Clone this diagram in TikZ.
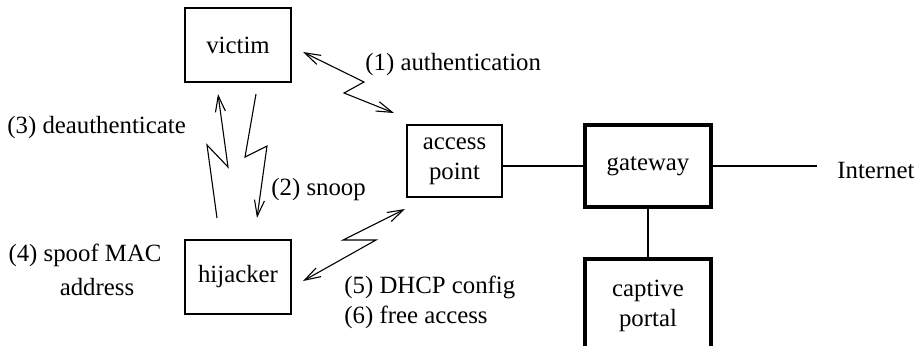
\documentclass[tikz,border=0pt]{standalone}
\usepackage{fontspec}
\setmainfont{Liberation Serif}
\usetikzlibrary{arrows.meta}
\begin{document}
\begin{tikzpicture}[x=0.5pt,y=-0.5pt,
  every node/.style={font=\fontsize{12.4}{15}\selectfont},
  thinbox/.style={draw,line width=0.6pt,inner sep=0pt,align=center},
  thickbox/.style={draw,line width=1.8pt,inner sep=0pt,align=center,minimum width=63pt,minimum height=41pt},
  lbl/.style={inner sep=0pt,anchor=west,align=left},
  link/.style={line width=0.6pt},
  wave/.style={line width=0.55pt,line join=miter},
  tip/.style={-{Straight Barb[length=8pt,width=5pt,line width=0.55pt]}},
  tips/.style={{Straight Barb[length=8pt,width=5pt,line width=0.55pt]}-{Straight Barb[length=8pt,width=5pt,line width=0.55pt]}}]
\useasboundingbox (0,0) rectangle (920,345);
\clip (0,0) rectangle (920,345);

% boxes
\node[thinbox,minimum width=53pt,minimum height=37pt] (victim) at (238,45) {victim};
\node[thinbox,minimum width=47.5pt,minimum height=36pt] (ap) at (454.5,161) {access\\point};
\node[thinbox,minimum width=53pt,minimum height=37pt] (hij) at (238,277) {hijacker};
\node[thickbox] (gw) at (648,166) {gateway};
\node[thickbox,minimum height=47pt] (cp) at (648,306) {captive\\portal};
\node[lbl] (inet) at (837,170) {Internet};
\coordinate (inetend) at (817,166);

% wired links
\draw[link] (gw.west -| ap.east) -- (gw.west);
\draw[link] (gw.east) -- (gw.east -| inetend);
\draw[link] (gw.south) -- (cp.north);

% wireless links
\coordinate (a1) at (303,52);
\coordinate (a2) at (394,113);
\draw[wave,tips] (a1) -- (364,82) -- (344,93) -- (a2);

\coordinate (d1) at (217,218);
\coordinate (d2) at (218,94);
\draw[wave,tip] (d1) -- (207,145) -- (228,167) -- (d2);

\coordinate (s1) at (256,94);
\coordinate (s2) at (257,218);
\draw[wave,tip] (s1) -- (245,157) -- (267,146) -- (s2);

\coordinate (h1) at (405,209);
\coordinate (h2) at (303,281);
\draw[wave,tips] (h1) -- (343,240) -- (376,240) -- (h2);

% labels
\node[lbl] (l1) at (365,65) {(1) authentication};
\node[lbl] (l2) at (271,190) {(2) snoop};
\node[lbl] (l3) at (7,128) {(3) deauthenticate};
\node[inner sep=0pt] (l4a) at (85,255) {(4) spoof MAC};
\node[inner sep=0pt] (l4b) at (97,287) {address};
\node[lbl] (l56) at (344,302) {(5) DHCP config\\(6) free access};
\end{tikzpicture}
\end{document}
